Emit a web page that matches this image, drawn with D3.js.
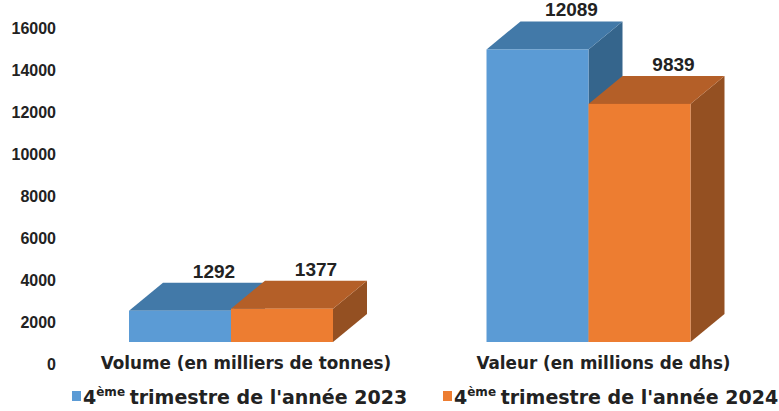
<!DOCTYPE html>
<html>
<head>
<meta charset="utf-8">
<script src="https://cdn.jsdelivr.net/npm/d3@7"></script>
<style>
  body { margin: 0; background: #fff; }
  svg { font-family: "Liberation Sans", Arial, sans-serif; font-weight: bold; }
</style>
</head>
<body>
<svg width="779" height="411"></svg>
<script>
const categories = ["Volume (en milliers de tonnes)", "Valeur (en millions de dhs)"];
const series = ["2023", "2024"];
const values2023 = [1292, 12089];
const values2024 = [1377, 9839];
const tickValues = [0, 2000, 4000, 6000, 8000, 10000, 12000, 14000, 16000];

const colors = {
  "2023": { front: "#5b9bd5", top: "#4279a8", side: "#35658c" },
  "2024": { front: "#ed7d31", top: "#b45f28", side: "#945022" }
};

const depthX = 34, depthY = -28;
const baseY = 342;
const textFont = "DejaVu Sans, sans-serif";

const svg = d3.select("svg");

// axis scale (labels only) and bar height scale
const yAxisScale = d3.scaleLinear().domain([0, 16000]).range([364, 28]);
const yBar = d3.scaleLinear().domain([0, 16000]).range([baseY, baseY - 16000 * 0.0242]);

const x0 = d3.scaleBand()
  .domain(categories)
  .range([57.5, 762])
  .paddingInner(0.4294)
  .paddingOuter(0.2);

const x1 = d3.scaleBand()
  .domain(series)
  .range([0, x0.bandwidth()]);

const yAxis = d3.axisLeft(yAxisScale)
  .tickValues(tickValues)
  .tickFormat(d3.format("d"))
  .tickSize(0)
  .tickPadding(0);
const gAxis = svg.append("g")
  .attr("transform", "translate(56,0)")
  .call(yAxis);
gAxis.select(".domain").remove();
gAxis.selectAll("text")
  .attr("font-size", 16)
  .attr("font-family", "Liberation Sans, Arial, sans-serif")
  .attr("font-weight", "bold")
  .attr("fill", "#222");

const data = [];
categories.forEach((c, i) => {
  data.push({ cat: c, s: "2023", v: values2023[i] });
  data.push({ cat: c, s: "2024", v: values2024[i] });
});

const bars = svg.append("g");
data.forEach(d => {
  const xl = x0(d.cat) + x1(d.s);
  const xr = xl + x1.bandwidth();
  const yt = yBar(d.v);
  const col = colors[d.s];
  const g = bars.append("g");
  // side face
  g.append("polygon")
    .attr("points", [[xr, yt], [xr + depthX, yt + depthY], [xr + depthX, baseY + depthY], [xr, baseY]].join(" "))
    .attr("fill", col.side);
  // top face
  g.append("polygon")
    .attr("points", [[xl, yt], [xl + depthX, yt + depthY], [xr + depthX, yt + depthY], [xr, yt]].join(" "))
    .attr("fill", col.top);
  // front face
  g.append("rect")
    .attr("x", xl)
    .attr("y", yt)
    .attr("width", xr - xl)
    .attr("height", baseY - yt)
    .attr("fill", col.front);
  // value label
  g.append("text")
    .attr("x", (xl + xr) / 2 + depthX)
    .attr("y", yt + depthY - 5)
    .attr("text-anchor", "middle")
    .attr("font-size", 19)
    .attr("fill", "#222")
    .text(d.v);
});

// category labels
svg.append("g").selectAll("text")
  .data(categories)
  .enter()
  .append("text")
  .attr("x", d => x0(d) + x0.bandwidth() / 2 + 15)
  .attr("y", 369)
  .attr("text-anchor", "middle")
  .attr("font-family", textFont)
  .attr("font-size", 16.8)
  .attr("fill", "#222")
  .text(d => d);

// legend
const legendX = [72, 443];
series.forEach((s, i) => {
  const g = svg.append("g").attr("transform", "translate(" + legendX[i] + ",0)");
  g.append("rect")
    .attr("x", 0).attr("y", 391)
    .attr("width", 9).attr("height", 10)
    .attr("fill", colors[s].front);
  const t = g.append("text")
    .attr("x", 11)
    .attr("y", 404)
    .attr("font-family", textFont)
    .attr("font-size", 19)
    .attr("fill", "#222");
  t.append("tspan").text("4");
  t.append("tspan").attr("font-size", 12).attr("dy", -8).text("ème");
  t.append("tspan").attr("dy", 8).attr("dx", -2).text(" trimestre de l'année " + s);
});
</script>
</body>
</html>
